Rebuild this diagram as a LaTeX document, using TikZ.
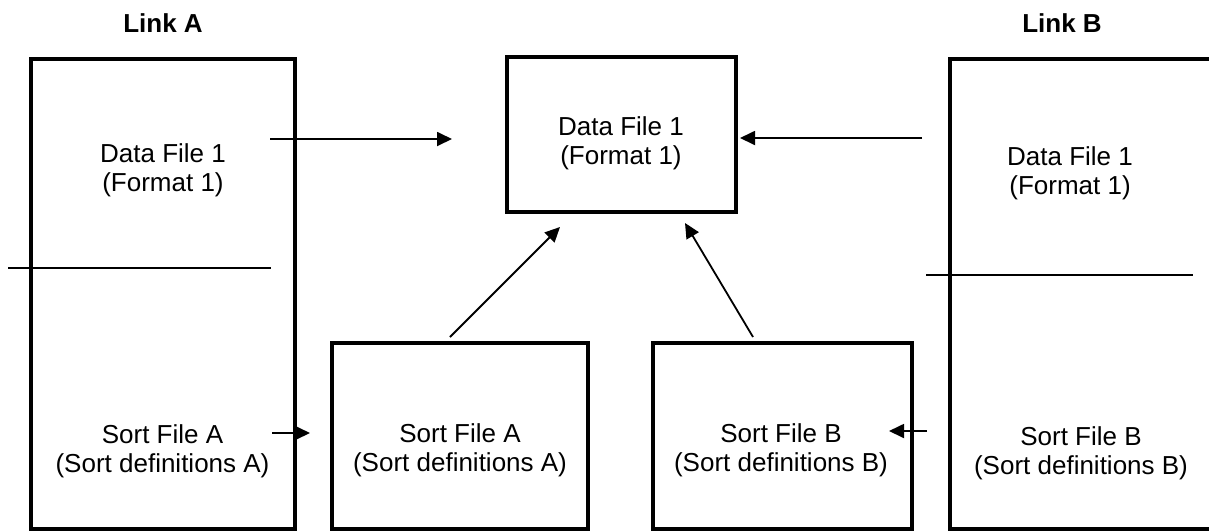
\documentclass[tikz,border=0pt]{standalone}
\usepackage{fontspec}
\setmainfont{Liberation Sans}
\usetikzlibrary{arrows.meta}
\begin{document}
\begin{tikzpicture}[x=1pt,y=-1pt,
  box/.style={draw, line width=4pt, inner sep=0pt},
  lbl/.style={align=center, font=\fontsize{26}{29}\selectfont, inner sep=0pt},
  ttl/.style={font=\fontsize{26}{29}\selectfont\bfseries, inner sep=0pt},
  thinln/.style={line width=1.8pt},
  arr/.style={thinln, -{Triangle[length=15pt,width=14pt]}}]
\useasboundingbox (0,0) rectangle (1209,531);
% titles
\node[ttl] (tA) at (163,23) {Link A};
\node[ttl] (tB) at (1062,23) {Link B};
% boxes
\node[box, minimum width=264pt, minimum height=470pt] (LA) at (163,294) {};
\node[box, minimum width=280pt, minimum height=470pt] (LB) at (1090,294) {};
\node[box, minimum width=229pt, minimum height=155pt] (C) at (621.5,134.5) {};
\node[box, minimum width=256pt, minimum height=186pt] (SA) at (460,436) {};
\node[box, minimum width=259pt, minimum height=186pt] (SB) at (782.5,436) {};
% texts
\node[lbl] (LAd) at (163,170) {Data File 1\\(Format 1)};
\node[lbl] (LAs) at (162.5,451) {Sort File A\\(Sort definitions A)};
\node[lbl] (LBd) at (1070,173) {Data File 1\\(Format 1)};
\node[lbl] (LBs) at (1081,453) {Sort File B\\(Sort definitions B)};
\node[lbl] (Ct) at (621,143.5) {Data File 1\\(Format 1)};
\node[lbl] (SAt) at (460,450) {Sort File A\\(Sort definitions A)};
\node[lbl] (SBt) at (781,450) {Sort File B\\(Sort definitions B)};
% dividers
\coordinate (dA1) at (8,268);
\coordinate (dA2) at (271,268);
\coordinate (dB1) at (926,275);
\coordinate (dB2) at (1193,275);
\draw[thinln] (dA1) -- (dA2);
\draw[thinln] (dB1) -- (dB2);
% arrow ends
\coordinate (a1s) at (270,139);  \coordinate (a1e) at (452,139);
\coordinate (a2s) at (922,138);  \coordinate (a2e) at (740,138);
\coordinate (a3s) at (450,337);  \coordinate (a3e) at (560,227);
\coordinate (a4s) at (753,337);  \coordinate (a4e) at (685,223);
\coordinate (a5s) at (272,433);  \coordinate (a5e) at (310,433);
\coordinate (a6s) at (927,431);  \coordinate (a6e) at (889,431);
\draw[arr] (a1s) -- (a1e);
\draw[arr] (a2s) -- (a2e);
\draw[arr] (a3s) -- (a3e);
\draw[arr] (a4s) -- (a4e);
\draw[arr] (a5s) -- (a5e);
\draw[arr] (a6s) -- (a6e);
\end{tikzpicture}
\end{document}
